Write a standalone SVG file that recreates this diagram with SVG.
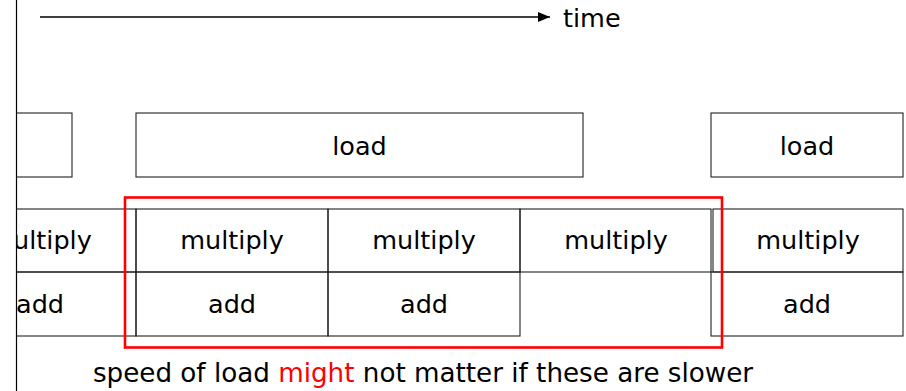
<svg xmlns="http://www.w3.org/2000/svg" width="906" height="391" viewBox="0 0 906 391">
<style>
.box{fill:none;stroke:#222;stroke-width:1.1}
.t{font-family:"DejaVu Sans",sans-serif;font-size:25.5px;fill:#000;text-anchor:middle}
.red{fill:none;stroke:#ff0000;stroke-width:2.6}
</style>
<defs>
<marker id="ah" viewBox="0 0 12 10" refX="12" refY="5" markerWidth="12" markerHeight="10" markerUnits="userSpaceOnUse" orient="auto">
<path d="M0,0 L12,5 L0,10 Z" fill="#000"/>
</marker>
<clipPath id="clip"><rect x="16.5" y="0" width="900" height="391"/></clipPath>
</defs>
<rect width="906" height="391" fill="#fff"/>
<g id="axis"><line x1="16.5" y1="0" x2="16.5" y2="391" stroke="#000" stroke-width="1.2"/></g>
<g id="connectors"><line x1="40" y1="17" x2="550" y2="17" stroke="#000" stroke-width="1.3" marker-end="url(#ah)"/></g>
<text class="t" x="563" y="27" style="text-anchor:start">time</text>
<g clip-path="url(#clip)">
<g id="load0"><rect class="box" x="-120" y="113" width="192" height="64"/></g>
<g id="mul0"><rect class="box" x="-56" y="209" width="192" height="63"/><text class="t" x="40" y="249">multiply</text></g>
<g id="add0"><rect class="box" x="-56" y="272" width="192" height="64"/><text class="t" x="40" y="313">add</text></g>
</g>
<g id="load1"><rect class="box" x="136" y="113" width="447" height="64"/><text class="t" x="359.5" y="155">load</text></g>
<g id="load2"><rect class="box" x="711" y="113" width="192" height="64"/><text class="t" x="807" y="155">load</text></g>
<g id="mul1"><rect class="box" x="136" y="209" width="192" height="63"/><text class="t" x="232" y="249">multiply</text></g>
<g id="mul2"><rect class="box" x="328" y="209" width="192" height="63"/><text class="t" x="424" y="249">multiply</text></g>
<g id="mul3"><rect class="box" x="520" y="209" width="191" height="63"/><text class="t" x="616" y="249">multiply</text></g>
<g id="mul4"><rect class="box" x="713" y="209" width="190" height="63"/><text class="t" x="808" y="249">multiply</text></g>
<g id="add1"><rect class="box" x="136" y="272" width="192" height="64"/><text class="t" x="232" y="313">add</text></g>
<g id="add2"><rect class="box" x="328" y="272" width="192" height="64"/><text class="t" x="424" y="313">add</text></g>
<g id="add4"><rect class="box" x="711" y="272" width="192" height="64"/><text class="t" x="807" y="313">add</text></g>
<g id="highlight"><rect class="red" x="125" y="197.5" width="597" height="150"/></g>
<text class="t" x="423" y="382" style="font-size:26.2px">speed of load <tspan fill="#ff0000">might</tspan> not matter if these are slower</text>
</svg>
